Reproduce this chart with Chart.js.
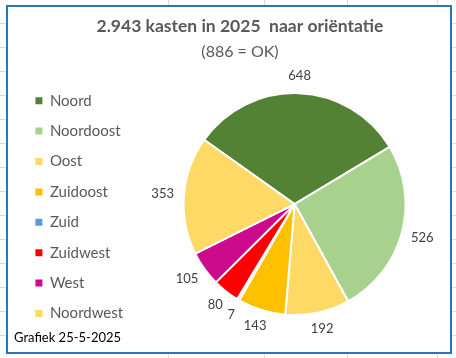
<!DOCTYPE html>
<html>
<head>
<meta charset="utf-8">
<script src="https://cdn.jsdelivr.net/npm/chart.js@4.4.1/dist/chart.umd.min.js"></script>
<style>
    body { margin: 0; width: 456px; height: 358px; overflow: hidden; background: #fff; position: relative; }
    .hl { position: absolute; left: 0; width: 456px; height: 1px; background: #dadada; }
    .vl { position: absolute; top: 0; width: 1px; height: 358px; background: #dadada; }
    #frame { position: absolute; left: 6px; top: 5px; width: 442px; height: 345px; border: 2px solid #2e75b6; background: #fff; }
    #grafiek { position: absolute; left: 0; top: 0; }
</style>
</head>
<body>
<div id="frame"></div>
<canvas id="grafiek" width="456" height="358"></canvas>
<script>
// Gegevens
const richtingen = ['Noord', 'Noordoost', 'Oost', 'Zuidoost', 'Zuid', 'Zuidwest', 'West', 'Noordwest'];
const aantallen = [648, 526, 192, 143, 7, 80, 105, 353];
const kleuren = ['#548235', '#a9d18e', '#ffd966', '#ffc000', '#5b9bd5', '#ff0000', '#cc0a8c', '#ffd966'];

const titel = '2.943 kasten in 2025  naar oriëntatie';
const ondertitel = '(886 = OK)';
const voetnoot = 'Grafiek 25-5-2025';

const lettertype = 'Lato, "Open Sans", sans-serif';

// Excel-rasterlijnen achter de grafiek
for (let y = 23; y < 358; y += 24) {
    const d = document.createElement('div');
    d.className = 'hl';
    d.style.top = y + 'px';
    document.body.insertBefore(d, document.body.firstChild);
}
[168, 264, 347, 437].forEach(x => {
    const d = document.createElement('div');
    d.className = 'vl';
    d.style.left = x + 'px';
    document.body.insertBefore(d, document.body.firstChild);
});

// Waarden buiten de taartpunten
const waardeLabels = {
    id: 'waardeLabels',
    afterDatasetsDraw(chart) {
        const ctx = chart.ctx;
        const meta = chart.getDatasetMeta(0);
        ctx.save();
        ctx.font = '13px ' + lettertype;
        ctx.fillStyle = '#404040';
        ctx.textAlign = 'center';
        ctx.textBaseline = 'middle';
        meta.data.forEach((arc, i) => {
            const p = arc.getProps(['x', 'y', 'startAngle', 'endAngle', 'outerRadius'], true);
            const mid = (p.startAngle + p.endAngle) / 2;
            const tekst = String(chart.data.datasets[0].data[i]);
            const w = ctx.measureText(tekst).width;
            const d = p.outerRadius + 10;
            ctx.fillText(tekst, p.x + Math.cos(mid) * (d + w / 2), p.y + Math.sin(mid) * (d + 7));
        });
        ctx.restore();
    }
};

// Datum linksonder
const voetTekst = {
    id: 'voetTekst',
    afterDraw(chart) {
        const ctx = chart.ctx;
        ctx.save();
        ctx.font = '13px ' + lettertype;
        ctx.fillStyle = '#000';
        ctx.textBaseline = 'middle';
        ctx.fillText(voetnoot, 14, 338);
        ctx.restore();
    }
};

const ctx = document.getElementById('grafiek').getContext('2d');
new Chart(ctx, {
    type: 'pie',
    data: {
        labels: richtingen,
        datasets: [{
            data: aantallen,
            backgroundColor: kleuren,
            borderColor: '#ffffff',
            borderWidth: 2
        }]
    },
    options: {
        responsive: false,
        animation: false,
        devicePixelRatio: 1,
        rotation: -54.6,
        radius: 111,
        layout: { padding: { top: 8, left: 20, right: -4, bottom: 16 } },
        plugins: {
            title: {
                display: true,
                text: titel,
                color: '#595959',
                font: { family: lettertype, size: 17.5, weight: 'bold', lineHeight: 1.2 },
                padding: { top: 8, bottom: 1 }
            },
            subtitle: {
                display: true,
                text: ondertitel,
                color: '#595959',
                font: { family: lettertype, size: 16, lineHeight: 1.2 },
                padding: { top: 4, bottom: 5 }
            },
            legend: {
                position: 'left',
                fullSize: false,
                title: { display: true, text: ' ', padding: 0, font: { size: 5, lineHeight: 1.2 } },
                labels: {
                    color: '#595959',
                    font: { family: lettertype, size: 15 },
                    boxWidth: 7,
                    boxHeight: 7,
                    padding: 15.4,
                    generateLabels(chart) {
                        const items = Chart.overrides.pie.plugins.legend.labels.generateLabels(chart);
                        items.forEach(it => { it.lineWidth = 0; it.strokeStyle = 'rgba(0,0,0,0)'; });
                        return items;
                    }
                }
            },
            tooltip: { enabled: false }
        }
    },
    plugins: [waardeLabels, voetTekst]
});
</script>
</body>
</html>
